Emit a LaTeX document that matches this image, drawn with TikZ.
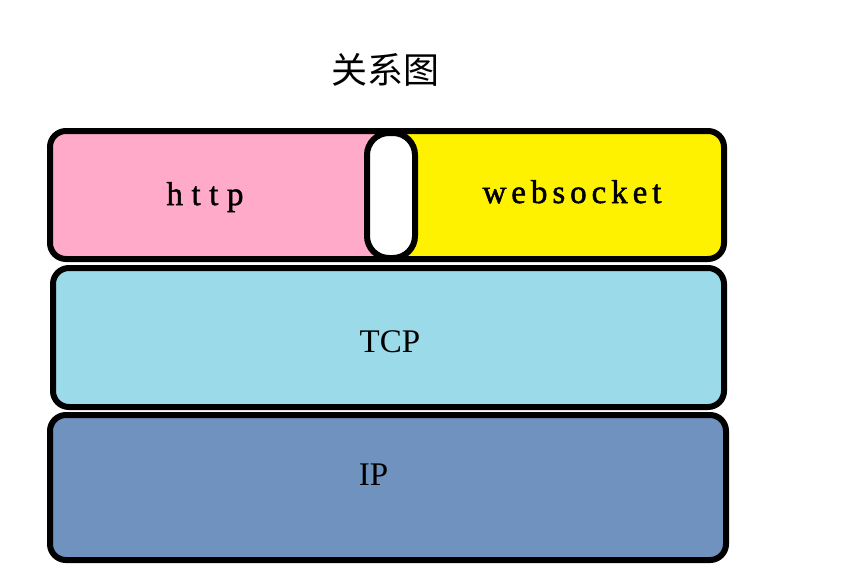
\documentclass[tikz,border=0pt]{standalone}
\usepackage{fontspec}
\setmainfont{Liberation Serif}
\newfontfamily\cjk{Noto Sans CJK SC}
\newfontfamily\spacedA[LetterSpace=26,FakeBold=1.5]{Liberation Serif}
\newfontfamily\spacedB[LetterSpace=15,FakeBold=1.5]{Liberation Serif}
\definecolor{pinkfill}{RGB}{255,170,200}
\definecolor{yellowfill}{RGB}{255,242,0}
\definecolor{tcpfill}{RGB}{155,218,233}
\definecolor{ipfill}{RGB}{112,146,190}
\begin{document}
\begin{tikzpicture}[x=1pt,y=-1pt,
  layer/.style={draw=black,line width=6pt,rounded corners=16pt,inner sep=0pt,outer sep=0pt,rectangle},
  lbl/.style={inner sep=0pt,anchor=base,font=\fontsize{33}{33}\selectfont}]
\useasboundingbox[fill=white] (0,0) rectangle (856,574);
% top row: http half and websocket half, meeting under the pill
\begin{scope}
  \clip (0,100) rectangle (391,300);
  \node[layer,fill=pinkfill,minimum width=380pt,minimum height=128pt] (http) at (240,195) {};
\end{scope}
\begin{scope}
  \clip (391,100) rectangle (856,300);
  \node[layer,fill=yellowfill,minimum width=370pt,minimum height=128pt] (ws) at (539,195) {};
\end{scope}
\node[layer,fill=white,rounded corners=22pt,minimum width=48pt,minimum height=125pt] (gap) at (391,195.5) {};
% lower layers
\node[layer,fill=tcpfill,minimum width=671pt,minimum height=139pt] (tcp) at (388.5,337.5) {};
\node[layer,fill=ipfill,minimum width=676pt,minimum height=145pt] (ip) at (388,487.5) {};
% labels
\node[font=\cjk\fontsize{36}{36}\selectfont,inner sep=0pt] (title) at (385,70) {关系图};
\node[lbl,font=\spacedA\fontsize{33}{33}\selectfont] (httpl) at (205,205) {http};
\node[lbl,font=\spacedB\fontsize{33}{33}\selectfont] (wsl) at (572,203) {websocket};
\node[lbl] (tcpl) at (390,352) {TCP};
\node[lbl] (ipl) at (373.5,485) {IP};
\end{tikzpicture}
\end{document}
